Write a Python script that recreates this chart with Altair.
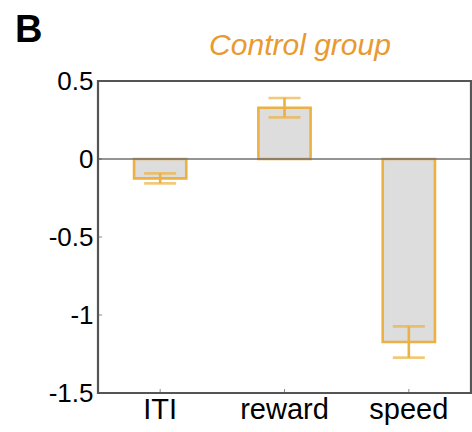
import altair as alt
import pandas as pd

categories = ["ITI", "reward", "speed"]
means = [-0.124, 0.329, -1.173]
errors = [0.032, 0.062, 0.100]
y_tick_values = [-1.5, -1.0, -0.5, 0.0, 0.5]

df = pd.DataFrame({"cat": categories, "mean": means, "err": errors})
df["lo"] = df["mean"] - df["err"]
df["hi"] = df["mean"] + df["err"]

ORANGE = "#ecb043"
TITLE_ORANGE = "#e99a2f"
FONT = "Liberation Sans"
FRAME = "#555555"

xscale = alt.Scale(domain=categories, paddingInner=0.58, paddingOuter=0.29)
yscale = alt.Scale(domain=[-1.5, 0.5], nice=False, zero=False)

x_enc = alt.X("cat:N", scale=xscale, sort=categories,
              axis=alt.Axis(title=None, labelAngle=0, ticks=False, domain=False,
                            labelFont=FONT, labelFontSize=29, labelColor="#000",
                            labelPadding=2))
y_enc = alt.Y("mean:Q", scale=yscale,
              axis=alt.Axis(title=None, values=y_tick_values, ticks=False, domain=False,
                            grid=False, labelFont=FONT, labelFontSize=26, labelColor="#000",
                            labelPadding=5, labelExpr="toString(datum.value)"))

base = alt.Chart(df)

bars = base.mark_bar(fill="#dcdddc", stroke=ORANGE, strokeWidth=2.6).encode(
    x=x_enc, y=y_enc, y2=alt.datum(0)
)

zero = alt.Chart(pd.DataFrame({"z": [0.0]})).mark_rule(color="#707070", strokeWidth=1.6).encode(
    y=alt.Y("z:Q", scale=yscale)
)

err_rule = base.mark_rule(color=ORANGE, strokeWidth=2.6).encode(
    x=alt.X("cat:N", scale=xscale, sort=categories),
    y=alt.Y("lo:Q", scale=yscale), y2="hi:Q"
)
cap_lo = base.mark_tick(color=ORANGE, thickness=2.6, size=32, orient="horizontal").encode(
    x=alt.X("cat:N", scale=xscale, sort=categories),
    y=alt.Y("lo:Q", scale=yscale)
)
cap_hi = base.mark_tick(color=ORANGE, thickness=2.6, size=32, orient="horizontal").encode(
    x=alt.X("cat:N", scale=xscale, sort=categories),
    y=alt.Y("hi:Q", scale=yscale)
)

ytick_df = pd.DataFrame({"v": y_tick_values})
yticks = alt.Chart(ytick_df).mark_tick(color=FRAME, thickness=1, size=4, orient="horizontal").encode(
    y=alt.Y("v:Q", scale=yscale), x=alt.value(2)
)
xticks = alt.Chart(pd.DataFrame({"cat": categories})).mark_tick(
    color=FRAME, thickness=1, size=4, orient="vertical").encode(
    x=alt.X("cat:N", scale=xscale, sort=categories), y=alt.value(310)
)

frame = alt.Chart(pd.DataFrame({"f": [0]})).mark_rect(
    filled=False, stroke=FRAME, strokeWidth=2.2
).encode(x=alt.value(0), x2=alt.value(373), y=alt.value(0), y2=alt.value(312))

title = alt.Chart(pd.DataFrame({"t": ["Control group"]})).mark_text(
    font=FONT, fontSize=30, fontStyle="italic", color=TITLE_ORANGE,
    align="center", baseline="alphabetic"
).encode(text="t:N", x=alt.value(202), y=alt.value(-26))

panel = alt.Chart(pd.DataFrame({"t": ["B"]})).mark_text(
    font=FONT, fontSize=38, fontWeight="bold", color="#000",
    align="left", baseline="alphabetic"
).encode(text="t:N", x=alt.value(-83), y=alt.value(-39))

chart = alt.layer(bars, zero, err_rule, cap_lo, cap_hi, yticks, xticks, frame, title, panel).properties(
    width=373, height=312,
    autosize=alt.AutoSizeParams(type="none"),
    padding={"left": 98, "top": 81, "right": 1, "bottom": 39},
    background="white",
).configure_view(stroke=None)

chart.save("out.html", embed_options={"renderer": "svg", "actions": False})
